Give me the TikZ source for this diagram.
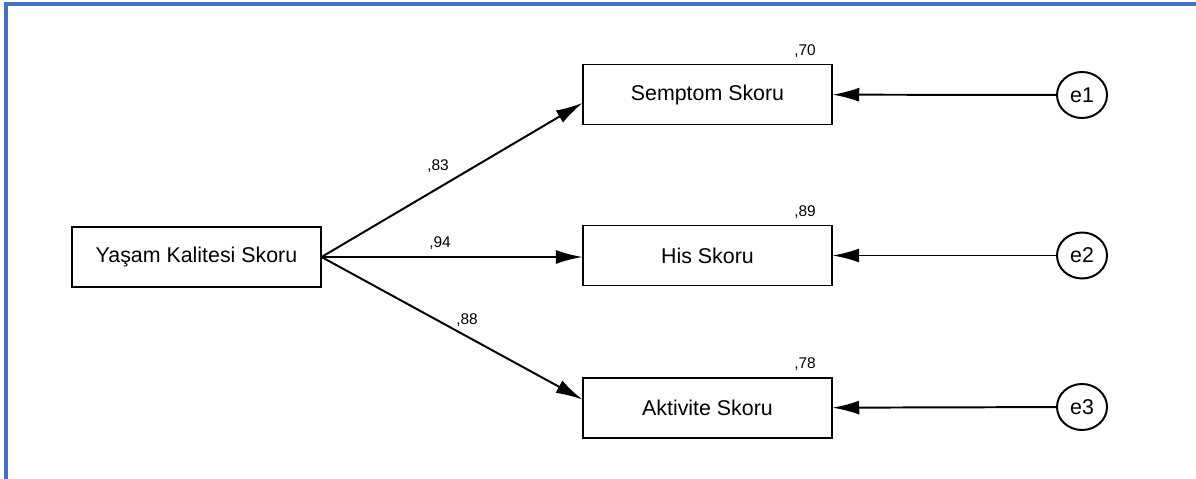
\documentclass[tikz,border=0pt]{standalone}
\usepackage{fontspec}
\setmainfont{Liberation Sans}
\usetikzlibrary{arrows.meta,shapes.geometric}
\definecolor{frameblue}{HTML}{4472C4}

\begin{document}
\begin{tikzpicture}[
		x=0.025cm, y=-0.025cm,
		box/.style={
				draw,
				line width=1.4pt,
				minimum width=6.2cm,
				minimum height=1.5cm,
				inner sep=0pt,
				font=\fontsize{15.2}{17}\selectfont,
			},
		err/.style={
				ellipse,
				draw,
				line width=1.4pt,
				minimum width=1.25cm,
				minimum height=1.15cm,
				inner sep=0pt,
				font=\fontsize{15.2}{17}\selectfont,
			},
		link/.style={
				line width=1.4pt,
				-{Latex[length=19pt,width=10pt]},
			},
		coef/.style={
				inner sep=1pt,
				font=\fontsize{11}{13}\selectfont,
			},
	]
	\useasboundingbox (0,0) rectangle (1196,479);
	\draw[frameblue, line width=2.4pt] (6,479) -- (6,4) -- (1196,4);

	\node[box] (QoL) at (196.5,257) {Yaşam Kalitesi Skoru};
	\node[box] (Sem) at (707.5,94.5) {Semptom Skoru};
	\node[box] (His) at (707.5,255.5) {His Skoru};
	\node[box] (Akt) at (707.5,408) {Aktivite Skoru};
	\node[err] (e1) at (1082,95) {e1};
	\node[err] (e2) at (1082,255.5) {e2};
	\node[err] (e3) at (1082,407) {e3};

	\draw[link] (QoL.east) -- ([yshift=-6pt]Sem.west);
	\draw[link] (QoL.east) -- (QoL.east -| His.west);
	\draw[link] (QoL.east) -- ([yshift=6pt]Akt.west);
	\draw[link] (e1) -- (Sem);
	\draw[link] (e2) -- (His);
	\draw[link] (e3) -- (Akt);

	% loadings
	\node[coef] (l1) at (438,166) {,83};
	\node[coef] (l2) at (440,243) {,94};
	\node[coef] (l3) at (467,320) {,88};
	% squared multiple correlations
	\node[coef] (r1) at (805,51) {,70};
	\node[coef] (r2) at (805,212) {,89};
	\node[coef] (r3) at (805,364) {,78};
\end{tikzpicture}
\end{document}
